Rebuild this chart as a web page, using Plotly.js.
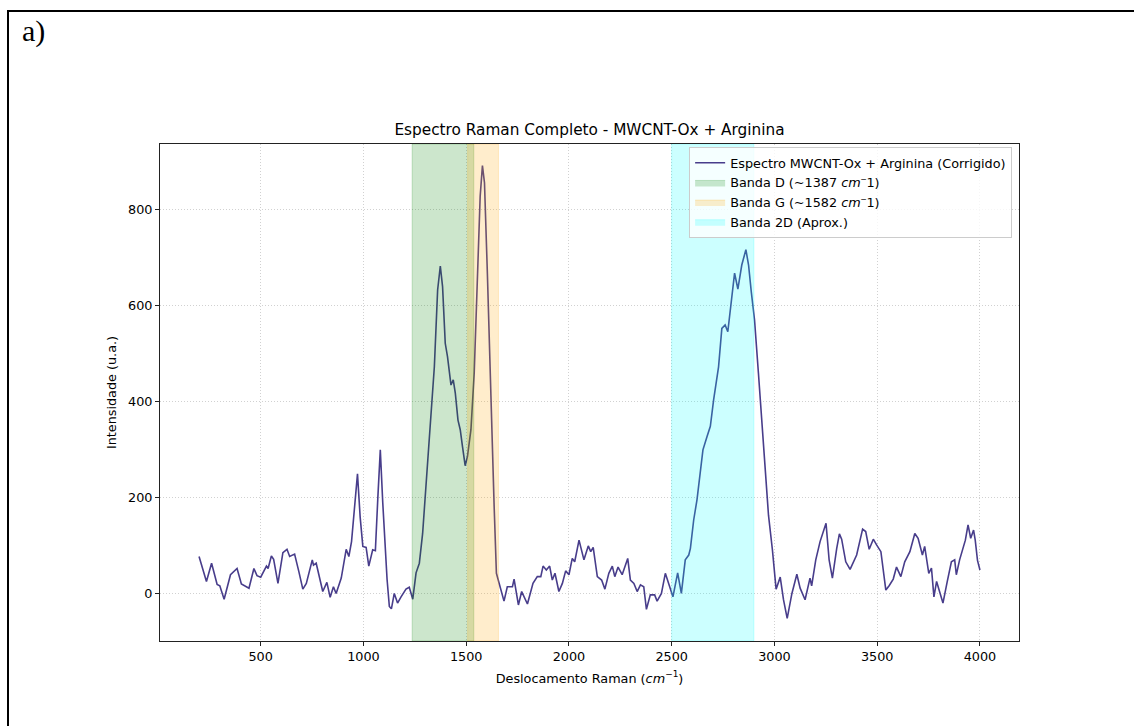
<!DOCTYPE html>
<html>
<head>
<meta charset="utf-8">
<script src="https://cdn.plot.ly/plotly-3.0.1.min.js"></script>
<style>
  html, body { margin: 0; padding: 0; background: #fff; }
  #page { position: relative; width: 1134px; height: 726px; overflow: hidden; }
  #frame { position: absolute; left: 7px; top: 10px; width: 1200px; height: 800px;
           border-left: 2px solid #000; border-top: 2px solid #000; pointer-events: none; }
  #panel { position: absolute; left: 22px; top: 16px; font-family: "Liberation Serif", "Times New Roman", serif;
           font-size: 30px; line-height: 30px; color: #000; }
  #chart { position: absolute; left: 0; top: 0; width: 1134px; height: 726px; }
</style>
</head>
<body>
<div id="page">
  <div id="chart"></div>
  <div id="frame"></div>
  <div id="panel">a)</div>
</div>
<script>
// Raman shift (cm^-1) and baseline-corrected intensity (a.u.)
const ramanShift = [
  200, 236, 261, 288, 301, 322, 353, 385, 406, 443, 467, 482, 500, 528, 536, 552, 563, 584,
  608, 628, 641, 665, 686, 705, 722, 751, 757, 770, 802, 822, 838, 854, 867, 892, 916, 929,
  942, 958, 971, 984, 997, 1013, 1026, 1045, 1058, 1070, 1082, 1094, 1102, 1115, 1126, 1136,
  1150, 1166, 1183, 1207, 1223, 1240, 1256, 1272, 1288, 1304, 1329, 1345, 1361, 1374, 1385,
  1398, 1409, 1426, 1437, 1447, 1460, 1471, 1482, 1495, 1506, 1523, 1539, 1555, 1568, 1579,
  1589, 1603, 1620, 1636, 1647, 1668, 1684, 1700, 1725, 1733, 1754, 1770, 1798, 1825, 1846,
  1863, 1874, 1890, 1906, 1919, 1932, 1951, 1968, 1984, 2000, 2016, 2028, 2049, 2073, 2094,
  2106, 2118, 2138, 2159, 2175, 2194, 2211, 2223, 2239, 2259, 2286, 2299, 2316, 2332, 2348,
  2364, 2377, 2396, 2417, 2429, 2450, 2469, 2485, 2506, 2529, 2547, 2566, 2583, 2591, 2607,
  2623, 2639, 2652, 2672, 2688, 2704, 2728, 2744, 2760, 2773, 2790, 2806, 2822, 2841, 2861,
  2874, 2887, 2903, 2922, 2947, 2971, 2990, 3008, 3028, 3044, 3062, 3085, 3109, 3125, 3149,
  3173, 3181, 3201, 3222, 3251, 3266, 3282, 3303, 3316, 3327, 3347, 3368, 3400, 3429, 3444,
  3461, 3481, 3497, 3518, 3542, 3558, 3578, 3594, 3615, 3634, 3659, 3683, 3699, 3720, 3731,
  3751, 3764, 3776, 3789, 3805, 3820, 3841, 3861, 3877, 3885, 3901, 3917, 3929, 3942, 3955,
  3969, 3977, 3988, 4000
];
const intensity = [
  78, 26, 64, 20, 17, -11, 40, 53, 21, 12, 53, 38, 35, 58, 53, 79, 72, 22,
  86, 93, 78, 83, 46, 10, 22, 71, 60, 64, 5, 24, -7, 15, 1, 33, 93, 78,
  109, 180, 250, 160, 99, 97, 58, 92, 90, 200, 300, 190, 126, 30, -26, -31,
  1, -19, -6, 10, 14, -11, 44, 64, 126, 224, 362, 473, 633, 683, 640,
  522, 494, 435, 446, 418, 362, 342, 307, 267, 286, 342, 460, 668, 828, 892,
  856, 668, 390, 182, 43, 8, -15, 15, 15, 31, -23, 5, -21, 22, 36,
  36, 58, 50, 58, 29, 43, 5, 22, 48, 40, 74, 67, 112, 71, 100,
  88, 97, 36, 29, 10, 43, 58, 36, 56, 40, 74, 29, 22, 5, 19,
  15, -32, -2, -2, -15, 1, 43, 22, -6, 44, 1, 71, 81, 95, 154,
  196, 251, 300, 328, 349, 404, 473, 553, 560, 546, 606, 668, 635, 685, 717,
  685, 630, 571, 460, 307, 164, 92, 10, 35, -12, -51, 1, 41, 12, -12,
  33, 17, 71, 109, 147, 71, 33, 95, 125, 114, 67, 51, 81, 135, 130,
  93, 114, 102, 88, 8, 17, 31, 56, 36, 67, 88, 126, 116, 81, 99,
  43, 54, -6, 26, 1, -19, 26, 67, 71, 40, 71, 95, 112, 144, 116,
  133, 112, 70, 50
];

// Highlighted Raman bands (shaded ranges)
const bandNames = ["Banda D (~1387 <i>cm</i><sup>\u2012</sup>1)", "Banda G (~1582 <i>cm</i><sup>\u2012</sup>1)", "Banda 2D (Aprox.)"];
const bandLo = [1237, 1507, 2500];
const bandHi = [1537, 1657, 2900];

const seriesName = "Espectro MWCNT-Ox + Arginina (Corrigido)";
const xTicks = [500, 1000, 1500, 2000, 2500, 3000, 3500, 4000];
const yTicks = [0, 200, 400, 600, 800];

// Styling
const bandFill = ["rgba(0,128,0,0.2)", "rgba(255,165,0,0.2)", "rgba(0,255,255,0.2)"];
const lineColor = "#483d8b";
const font = "DejaVu Sans, Verdana, sans-serif";
const textSize = 12.8;

const traces = [];
bandNames.forEach((name, i) => {
  traces.push({
    type: "scatter",
    mode: "lines",
    x: [bandLo[i], bandHi[i], bandHi[i], bandLo[i], bandLo[i]],
    y: [0, 0, 1, 1, 0],
    yaxis: "y2",
    fill: "toself",
    fillcolor: bandFill[i],
    line: { color: bandFill[i], width: 1 },
    name: name,
    legendrank: i + 2,
    hoverinfo: "skip"
  });
});
traces.push({
  type: "scatter",
  mode: "lines",
  x: ramanShift,
  y: intensity,
  name: seriesName,
  line: { color: lineColor, width: 1.6 },
  legendrank: 1
});

const axisCommon = {
  showline: true,
  mirror: true,
  linecolor: "#222",
  linewidth: 1,
  ticks: "outside",
  ticklen: 4,
  tickcolor: "#222",
  tickfont: { family: font, size: textSize, color: "#000" },
  showgrid: true,
  gridcolor: "rgba(190,190,190,0.7)",
  griddash: "1px,2px",
  gridwidth: 1,
  zeroline: false,
  automargin: false
};

const layout = {
  width: 1134,
  height: 726,
  margin: { l: 160, r: 115, t: 144, b: 85 },
  paper_bgcolor: "rgba(0,0,0,0)",
  plot_bgcolor: "#fff",
  showlegend: true,
  title: {
    text: "Espectro Raman Completo - MWCNT-Ox + Arginina",
    font: { family: font, size: 15.3, color: "#000" },
    xref: "paper", x: 0.5, xanchor: "center",
    yref: "container", y: 0.821, yanchor: "middle"
  },
  xaxis: Object.assign({}, axisCommon, {
    range: [10, 4190],
    tickvals: xTicks,
    ticktext: xTicks.map(String),
    title: { text: "Deslocamento Raman (<i>cm</i><sup>\u22121</sup>)", font: { family: font, size: textSize, color: "#000" }, standoff: 10 }
  }),
  yaxis: Object.assign({}, axisCommon, {
    range: [-98, 937],
    tickvals: yTicks,
    ticktext: yTicks.map(String),
    title: { text: "Intensidade (u.a.)", font: { family: font, size: textSize, color: "#000" }, standoff: 8 }
  }),
  yaxis2: { overlaying: "y", range: [0, 1], visible: false, fixedrange: true },
  legend: {
    x: 0.992, xanchor: "right",
    y: 0.994, yanchor: "top",
    bgcolor: "rgba(255,255,255,0.8)",
    bordercolor: "#cccccc",
    borderwidth: 1,
    font: { family: font, size: textSize, color: "#000" },
    tracegroupgap: 0
  }
};

Plotly.newPlot("chart", traces, layout, { displayModeBar: false, staticPlot: true });
</script>
</body>
</html>
